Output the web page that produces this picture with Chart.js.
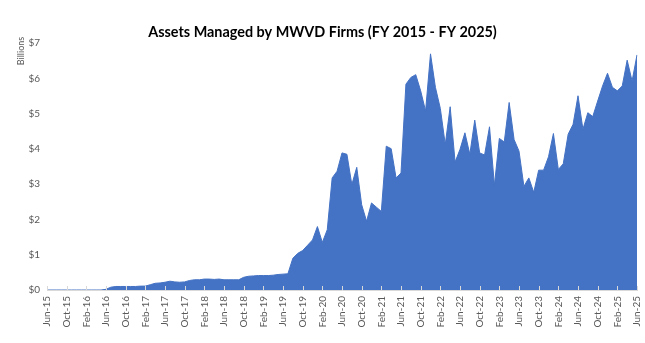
<!DOCTYPE html>
<html>
<head>
<meta charset="utf-8">
<script src="https://cdn.jsdelivr.net/npm/chart.js@4.4.1/dist/chart.umd.min.js"></script>
<style>
  html, body { margin: 0; padding: 0; background: #fff; }
  #wrap { width: 645px; height: 343px; position: relative; }
</style>
</head>
<body>
<div id="wrap"><canvas id="chart"></canvas></div>
<script>
// Monthly assets managed (billions), Jun-15 .. Jun-25
const monthNames = ["Jan", "Feb", "Mar", "Apr", "May", "Jun", "Jul", "Aug", "Sep", "Oct", "Nov", "Dec"];
const startYear = 2015;
const startMonth = 5; // Jun

const assets = [
  0, 0, 0, 0, 0, 0, 0, 0, 0, 0, 0, 0,
  0.02, 0.08, 0.10, 0.10, 0.10, 0.10, 0.10, 0.11, 0.11, 0.15, 0.19, 0.20,
  0.22, 0.25, 0.23, 0.22, 0.23, 0.27, 0.29, 0.29, 0.31, 0.31, 0.30, 0.31,
  0.29, 0.29, 0.29, 0.29, 0.36, 0.39, 0.40, 0.41, 0.41, 0.41, 0.42, 0.44,
  0.45, 0.46, 0.90, 1.04, 1.12, 1.27, 1.42, 1.80, 1.35, 1.71, 3.18, 3.37,
  3.89, 3.85, 2.99, 3.48, 2.42, 1.95, 2.47, 2.35, 2.23, 4.08, 4.01, 3.18,
  3.32, 5.84, 6.03, 6.11, 5.65, 5.08, 6.70, 5.75, 5.15, 4.13, 5.20, 3.63,
  3.99, 4.46, 3.85, 4.82, 3.89, 3.83, 4.63, 2.97, 4.30, 4.20, 5.32, 4.27,
  3.94, 2.94, 3.18, 2.77, 3.40, 3.40, 3.78, 4.44, 3.42, 3.58, 4.42, 4.70,
  5.51, 4.56, 5.03, 4.92, 5.36, 5.79, 6.15, 5.75, 5.65, 5.79, 6.52, 5.93,
  6.67
];

const months = assets.map((_, i) => {
  const m = (startMonth + i) % 12;
  const y = startYear + Math.floor((startMonth + i) / 12);
  return monthNames[m] + "-" + String(y).slice(2);
});

const labelEvery = 4;
const yTicks = [0, 1, 2, 3, 4, 5, 6, 7];

const fontFamily = "Lato, 'Open Sans', sans-serif";
const grey = "#595959";

// "Billions" unit label + small tick marks on the category axis
const extras = {
  id: "extras",
  afterDatasetsDraw(chart) {
    const { ctx, scales: { x }, chartArea } = chart;
    ctx.save();
    ctx.strokeStyle = "#d9d9d9";
    ctx.lineWidth = 1;
    months.forEach((m, i) => {
      if (i % labelEvery !== 0) return;
      const px = Math.round(x.getPixelForValue(i)) + 0.5;
      ctx.beginPath();
      ctx.moveTo(px, chartArea.bottom - 4);
      ctx.lineTo(px, chartArea.bottom);
      ctx.stroke();
    });
    ctx.translate(21, 51);
    ctx.rotate(-Math.PI / 2);
    ctx.fillStyle = grey;
    ctx.font = "9px " + fontFamily;
    ctx.textAlign = "center";
    ctx.textBaseline = "middle";
    ctx.fillText("Billions", 0, 0);
    ctx.restore();
  }
};

new Chart(document.getElementById("chart"), {
  type: "line",
  data: {
    labels: months,
    datasets: [{
      data: assets,
      fill: "origin",
      backgroundColor: "#4472c4",
      borderColor: "#4472c4",
      borderWidth: 1,
      pointRadius: 0,
      tension: 0
    }]
  },
  options: {
    responsive: true,
    maintainAspectRatio: false,
    animation: false,
    layout: { padding: 0 },
    plugins: {
      legend: { display: false },
      tooltip: { enabled: false },
      title: {
        display: true,
        text: "Assets Managed by MWVD Firms (FY 2015 - FY 2025)",
        color: "#000",
        font: { family: fontFamily, size: 14.4, weight: "bold" },
        padding: { top: 24, bottom: 2 }
      }
    },
    scales: {
      x: {
        offset: false,
        grid: { display: false, drawTicks: false },
        border: { display: true, color: "#d9d9d9", width: 1 },
        ticks: {
          autoSkip: false,
          maxRotation: 90,
          minRotation: 90,
          padding: 6,
          color: grey,
          font: { family: fontFamily, size: 10 },
          callback: (v, i) => (i % labelEvery === 0 ? months[i] : null)
        },
        afterFit: s => {
          s.height = 53;
          s.paddingLeft = 0;
          s.paddingRight = 8;
        }
      },
      y: {
        min: 0,
        max: 7,
        afterBuildTicks: s => { s.ticks = yTicks.map(v => ({ value: v })); },
        grid: { display: false, drawTicks: false },
        border: { display: false },
        ticks: {
          padding: 7,
          color: grey,
          font: { family: fontFamily, size: 10 },
          callback: v => "$" + v
        },
        afterFit: s => { s.width = 47; }
      }
    }
  },
  plugins: [extras]
});
</script>
</body>
</html>
